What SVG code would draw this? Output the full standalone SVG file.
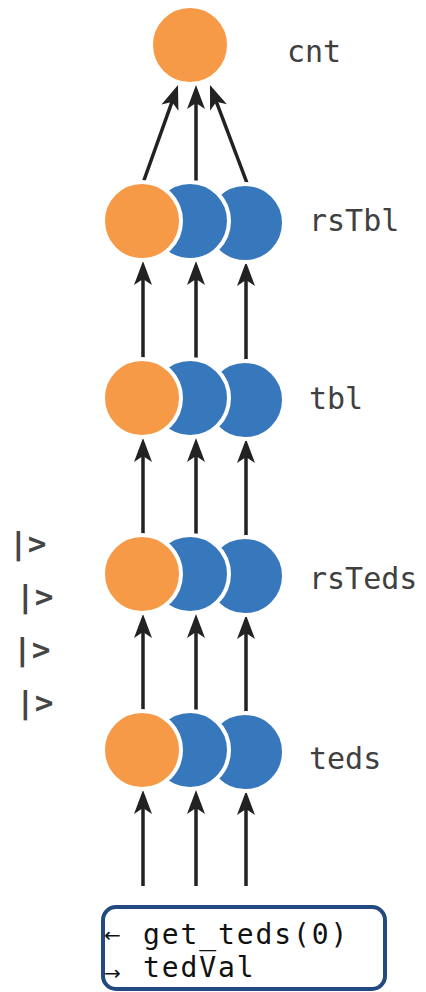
<svg xmlns="http://www.w3.org/2000/svg" width="426" height="992" viewBox="0 0 426 992">
  <style>
    .bg { fill: #ffffff; }
    .orange { fill: #f79a48; stroke: #ffffff; stroke-width: 4; }
    .blue { fill: #3778bc; stroke: #ffffff; stroke-width: 4; }
    .label { font-family: "DejaVu Sans Mono", "Liberation Mono", monospace; font-size: 30px; fill: #404040; }
    .pipe { font-family: "DejaVu Sans Mono", "Liberation Mono", monospace; font-size: 31px; font-weight: bold; fill: #454545; }
    .edge { fill: none; stroke: #222222; stroke-width: 3.5; marker-end: url(#head); }
    .box { fill: #ffffff; stroke: #234a80; stroke-width: 4; }
    .code { font-family: "DejaVu Sans Mono", "Liberation Mono", monospace; font-size: 28px; letter-spacing: 1.9px; fill: #111111; }
    .sym { font-family: "DejaVu Sans", "Liberation Sans", sans-serif; font-size: 20px; fill: #111111; }
  </style>
  <defs>
    <marker id="head" markerUnits="userSpaceOnUse" viewBox="-14 -10 28 20" refX="0" refY="0" markerWidth="28" markerHeight="20" orient="auto">
      <path d="M12,0 L-12,-9 L-6,0 L-12,9 Z" fill="#222222"/>
    </marker>
  </defs>

  <rect class="bg" x="0" y="0" width="426" height="992"/>

  <!-- connectors -->
  <g id="edges">
    <!-- rsTbl -> cnt -->
    <path class="edge" d="M143,183 L173.96,96.31"/>
    <path class="edge" d="M196,183 L196,97"/>
    <path class="edge" d="M247,183 L214.24,96.23"/>
    <!-- tbl -> rsTbl -->
    <path class="edge" d="M143,360 L143,273"/>
    <path class="edge" d="M196,360 L196,273"/>
    <path class="edge" d="M246,360 L246,274"/>
    <!-- rsTeds -> tbl -->
    <path class="edge" d="M143,536 L143,450"/>
    <path class="edge" d="M196,536 L196,450"/>
    <path class="edge" d="M246,536 L246,451"/>
    <!-- teds -> rsTeds -->
    <path class="edge" d="M143,712 L143,626"/>
    <path class="edge" d="M196,712 L196,626"/>
    <path class="edge" d="M246,712 L246,627"/>
    <!-- input -> teds -->
    <path class="edge" d="M143,886 L143,802"/>
    <path class="edge" d="M196,886 L196,802"/>
    <path class="edge" d="M246,886 L246,803"/>
  </g>

  <!-- nodes -->
  <g id="cnt">
    <circle class="orange" cx="190" cy="45" r="39"/>
    <text class="label" x="287" y="62">cnt</text>
  </g>

  <g id="rsTbl">
    <circle class="blue" cx="245" cy="223" r="39"/>
    <circle class="blue" cx="190" cy="221" r="39"/>
    <circle class="orange" cx="142" cy="221" r="39"/>
    <text class="label" x="309" y="231">rsTbl</text>
  </g>

  <g id="tbl">
    <circle class="blue" cx="245" cy="400" r="39"/>
    <circle class="blue" cx="190" cy="398" r="39"/>
    <circle class="orange" cx="142" cy="398" r="39"/>
    <text class="label" x="309" y="409">tbl</text>
  </g>

  <g id="rsTeds">
    <circle class="blue" cx="245" cy="576" r="39"/>
    <circle class="blue" cx="190" cy="574" r="39"/>
    <circle class="orange" cx="142" cy="574" r="39"/>
    <text class="label" x="309" y="589">rsTeds</text>
  </g>

  <g id="teds">
    <circle class="blue" cx="245" cy="752" r="39"/>
    <circle class="blue" cx="190" cy="750" r="39"/>
    <circle class="orange" cx="142" cy="750" r="39"/>
    <text class="label" x="309" y="769">teds</text>
  </g>

  <!-- pipeline marks -->
  <g id="pipes">
    <text class="pipe" x="9" y="554">|&gt;</text>
    <text class="pipe" x="16" y="607">|&gt;</text>
    <text class="pipe" x="13" y="660">|&gt;</text>
    <text class="pipe" x="16" y="713">|&gt;</text>
  </g>

  <!-- source box -->
  <g id="source">
    <rect class="box" x="103" y="907" width="282" height="82" rx="13"/>
    <text class="sym" x="104" y="942">←</text>
    <text class="code" x="143" y="944">get_teds(0)</text>
    <text class="sym" x="104" y="980">→</text>
    <text class="code" x="143" y="977">tedVal</text>
  </g>
</svg>
